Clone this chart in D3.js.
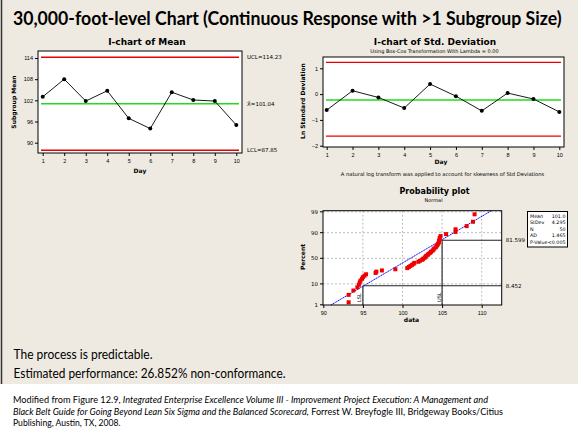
<!DOCTYPE html>
<html>
<head>
<meta charset="utf-8">
<script src="https://cdn.jsdelivr.net/npm/d3@7"></script>
<style>
  body { margin: 0; background: #fff; }
  svg { display: block; font-family: "DejaVu Sans", sans-serif; }
  .tick text { font-size: 5.5px; fill: #000; }
  .tick line { stroke: #000; }
</style>
</head>
<body>
<svg id="chart" width="586" height="431"></svg>
<script>
// ---- data ----
const days = [1, 2, 3, 4, 5, 6, 7, 8, 9, 10];
const meanValues = [103.0, 108.0, 101.8, 104.7, 96.9, 94.0, 104.3, 102.1, 101.8, 95.0];
const meanLimits = [114.23, 101.04, 87.85];
const meanLimitLabels = ['UCL=114.23', 'X\u0304=101.04', 'LCL=87.85'];
const meanTicks = [90, 96, 102, 108, 114];

const lnSdValues = [-0.62, 0.13, -0.13, -0.54, 0.39, -0.08, -0.65, 0.04, -0.19, -0.69];
const lnSdLimits = [1.23, -0.23, -1.63];
const lnSdTicks = [-2, -1, 0, 1];

// 50 observations, sorted
const probData = [
  93.2, 93.2, 93.8, 94.3, 94.5, 94.6, 94.7, 94.9, 95.0, 95.2,
  95.4, 96.6, 96.7, 97.4, 99.1, 100.6, 100.8, 101.0, 101.2, 101.4,
  101.5, 102.0, 102.2, 102.5, 102.6, 102.8, 102.9, 103.0, 103.2, 103.3,
  103.5, 103.6, 103.8, 103.9, 104.0, 104.2, 104.3, 104.4, 104.5, 104.6,
  104.6, 104.7, 104.7, 104.8, 105.5, 106.7, 106.7, 108.1, 108.9, 109.1
];
const probPctTicks = [1, 10, 50, 90, 99];
const probXTicks = [90, 95, 100, 105, 110];
const fitMean = 101.0;
const fitSd = 4.295;
const specLimits = [95, 105];
const specNames = ['LSL', 'USL'];
const specPct = [8.452, 81.599];
const statNames = ['Mean', 'StDev', 'N', 'AD', 'P-Value'];
const statValues = ['101.0', '4.295', '50', '1.465', '<0.005'];

const RED = '#e80000', GREEN = '#1fdc1f';

const svg = d3.select('#chart');

// inverse normal cdf (Acklam)
function normInv(p) {
  const a = [-39.69683028665376, 220.9460984245205, -275.9285104469687, 138.3577518672690, -30.66479806614716, 2.506628277459239];
  const b = [-54.47609879822406, 161.5858368580409, -155.6989798598866, 66.80131188771972, -13.28068155288572];
  const c = [-0.007784894002430293, -0.3223964580411365, -2.400758277161838, -2.549732539343734, 4.374664141464968, 2.938163982698783];
  const d = [0.007784695709041462, 0.3224671290700398, 2.445134137142996, 3.754408661907416];
  const lo = 0.02425;
  let q, r;
  if (p < lo) {
    q = Math.sqrt(-2 * Math.log(p));
    return (((((c[0]*q+c[1])*q+c[2])*q+c[3])*q+c[4])*q+c[5]) / ((((d[0]*q+d[1])*q+d[2])*q+d[3])*q+1);
  }
  if (p > 1 - lo) {
    q = Math.sqrt(-2 * Math.log(1 - p));
    return -(((((c[0]*q+c[1])*q+c[2])*q+c[3])*q+c[4])*q+c[5]) / ((((d[0]*q+d[1])*q+d[2])*q+d[3])*q+1);
  }
  q = p - 0.5; r = q * q;
  return (((((a[0]*r+a[1])*r+a[2])*r+a[3])*r+a[4])*r+a[5])*q / (((((b[0]*r+b[1])*r+b[2])*r+b[3])*r+b[4])*r+1);
}

// background panel
svg.append('rect').attr('x', 0).attr('y', 0).attr('width', 578).attr('height', 384).attr('fill', '#eeeae1');
svg.append('line').attr('x1', 1.5).attr('x2', 1.5).attr('y1', 0).attr('y2', 384).attr('stroke', '#333').attr('stroke-width', 1.5);

// title squeezed horizontally to the reference width
const title = svg.append('text').attr('x', 0).attr('y', 0)
  .attr('font-family', 'Lato, "Open Sans", sans-serif').attr('font-weight', 'bold').attr('font-size', 19.5)
  .text('30,000-foot-level Chart (Continuous Response with >1 Subgroup Size)');
const titleW = title.node().getComputedTextLength();
title.attr('transform', `translate(13,25) scale(${549 / titleW},1)`);

function label(x, y, txt, size, opts = {}) {
  const t = svg.append('text').attr('x', x).attr('y', y).attr('font-size', size)
    .attr('text-anchor', opts.anchor || 'middle').text(txt);
  if (opts.bold) t.attr('font-weight', 'bold');
  if (opts.rotate) t.attr('transform', `rotate(-90,${x},${y})`);
  return t;
}

// ---- generic I-chart ----
function iChart(box, x, y, values, limits, ticks) {
  svg.append('rect').attr('x', box.x0).attr('y', box.y0)
    .attr('width', box.x1 - box.x0).attr('height', box.y1 - box.y0)
    .attr('fill', '#fff').attr('stroke', '#000').attr('stroke-width', 1);

  const g = svg.append('g');
  g.selectAll('line.lim').data(limits).enter().append('line')
    .attr('x1', box.x0 + 3).attr('x2', box.x1 - 3)
    .attr('y1', d => y(d)).attr('y2', d => y(d))
    .attr('stroke', (d, i) => i === 1 ? GREEN : RED).attr('stroke-width', 1.4);

  g.append('path').datum(values)
    .attr('fill', 'none').attr('stroke', '#000').attr('stroke-width', 0.9)
    .attr('d', d3.line().x((d, i) => x(days[i])).y(d => y(d)));
  g.selectAll('circle').data(values).enter().append('circle')
    .attr('cx', (d, i) => x(days[i])).attr('cy', d => y(d)).attr('r', 2).attr('fill', '#000');

  const ay = svg.append('g').attr('transform', `translate(${box.x0},0)`)
    .call(d3.axisLeft(y).tickValues(ticks).tickFormat(d3.format('d')).tickSize(3).tickPadding(2));
  ay.select('.domain').remove();
  const ax = svg.append('g').attr('transform', `translate(0,${box.y1})`)
    .call(d3.axisBottom(x).tickValues(days).tickFormat(d3.format('d')).tickSize(3).tickPadding(3));
  ax.select('.domain').remove();
}

// I-chart of Mean
const xMean = d3.scaleLinear().domain([1, 10]).range([42.7, 236.3]);
const yMean = d3.scaleLinear().domain([90, 114]).range([142.7, 58]);
iChart({ x0: 38, x1: 242, y0: 51, y1: 153 }, xMean, yMean, meanValues, meanLimits, meanTicks);
label(147, 44.5, 'I-chart of Mean', 9, { bold: true });
label(140, 173, 'Day', 6, { bold: true });
label(16, 102, 'Subgroup Mean', 6, { bold: true, rotate: true });
meanLimits.forEach((v, i) => {
  label(247, yMean(v) + 2, meanLimitLabels[i], 5.5, { anchor: 'start' });
});

// I-chart of Std. Deviation
const xSd = d3.scaleLinear().domain([1, 10]).range([326.7, 559.3]);
const ySd = d3.scaleLinear().domain([-2, 1]).range([145.7, 68.3]);
iChart({ x0: 323, x1: 564, y0: 57, y1: 147 }, xSd, ySd, lnSdValues, lnSdLimits, lnSdTicks);
label(435, 44.5, 'I-chart of Std. Deviation', 9, { bold: true });
label(434.5, 52.5, 'Using Box-Cox Transformation With Lambda = 0.00', 5);
label(441, 164, 'Day', 6, { bold: true });
label(304.5, 101, 'Ln Standard Deviation', 6, { bold: true, rotate: true });
label(442.5, 176, 'A natural log transform was applied to account for skewness of Std Deviations', 5.2);

// ---- probability plot ----
const pb = { x0: 323, x1: 501.7, y0: 210.7, y1: 305 };
const xP = d3.scaleLinear().domain([90, 110]).range([323.3, 481.7]);
const zP = d3.scaleLinear().domain([normInv(0.01), normInv(0.99)]).range([304.8, 211.8]);
const yP = p => zP(normInv(p / 100));

svg.append('rect').attr('x', pb.x0).attr('y', pb.y0)
  .attr('width', pb.x1 - pb.x0).attr('height', pb.y1 - pb.y0).attr('fill', '#fff');

const grid = svg.append('g').attr('stroke', '#b4b4b4').attr('stroke-dasharray', '2,2').attr('stroke-width', 0.9);
grid.selectAll('line.v').data(probXTicks.slice(1)).enter().append('line')
  .attr('x1', d => xP(d)).attr('x2', d => xP(d)).attr('y1', pb.y0).attr('y2', pb.y1);
grid.selectAll('line.h').data(probPctTicks.slice(1)).enter().append('line')
  .attr('x1', pb.x0).attr('x2', pb.x1).attr('y1', d => yP(d)).attr('y2', d => yP(d));

// spec reference lines
const spec = svg.append('g').attr('stroke', '#222').attr('stroke-width', 1.1);
specLimits.forEach((s, i) => {
  spec.append('line').attr('x1', xP(s)).attr('x2', pb.x1).attr('y1', yP(specPct[i])).attr('y2', yP(specPct[i]));
  spec.append('line').attr('x1', xP(s)).attr('x2', xP(s)).attr('y1', yP(specPct[i])).attr('y2', pb.y1);
  label(pb.x1 + 4, yP(specPct[i]) + 2, specPct[i].toFixed(3), 5.5, { anchor: 'start' });
  label(xP(s) - 1.5, pb.y1 - 3, specNames[i], 5, { anchor: 'start', rotate: true });
});

// fitted normal line
const zTop = zP.invert(pb.y0), zBot = zP.invert(pb.y1);
svg.append('line')
  .attr('x1', xP(fitMean + zBot * fitSd)).attr('y1', pb.y1)
  .attr('x2', xP(fitMean + zTop * fitSd)).attr('y2', pb.y0)
  .attr('stroke', '#1010ff').attr('stroke-width', 1).attr('stroke-dasharray', '1.5,0.5');

// points at median ranks
const n = probData.length;
svg.append('g').selectAll('rect').data(probData).enter().append('rect')
  .attr('x', d => xP(d) - 2).attr('y', (d, i) => yP(100 * (i + 1 - 0.3) / (n + 0.4)) - 2)
  .attr('width', 4).attr('height', 4).attr('fill', '#ee0000');

svg.append('rect').attr('x', pb.x0).attr('y', pb.y0)
  .attr('width', pb.x1 - pb.x0).attr('height', pb.y1 - pb.y0).attr('fill', 'none')
  .attr('stroke', '#000').attr('stroke-width', 1);

const pAxis = svg.append('g');
probPctTicks.forEach(p => {
  pAxis.append('line').attr('x1', pb.x0 - 3).attr('x2', pb.x0).attr('y1', yP(p)).attr('y2', yP(p)).attr('stroke', '#000');
  label(pb.x0 - 5, yP(p) + 2, p, 5.5, { anchor: 'end' });
});
const apX = svg.append('g').attr('transform', `translate(0,${pb.y1})`)
  .call(d3.axisBottom(xP).tickValues(probXTicks).tickSize(3).tickPadding(3));
apX.select('.domain').remove();

label(434.5, 193.5, 'Probability plot', 8, { bold: true });
label(433.5, 202, 'Normal', 5);
label(411.5, 322, 'data', 6, { bold: true });
label(305, 257, 'Percent', 6, { bold: true, rotate: true });

// stats box
svg.append('rect').attr('x', 527.5).attr('y', 211.5).attr('width', 40).attr('height', 35.5)
  .attr('fill', '#fff').attr('stroke', '#000').attr('stroke-width', 1);
statNames.forEach((s, i) => {
  label(530, 217.5 + i * 6.6, s, 4.8, { anchor: 'start' });
  label(565.5, 217.5 + i * 6.6, statValues[i], 4.8, { anchor: 'end' });
});

// ---- conclusions ----
const body = 'Lato, "Open Sans", sans-serif';
svg.append('text').attr('x', 13.5).attr('y', 358.5).attr('font-family', body).attr('font-size', 13)
  .attr('textLength', 139).attr('lengthAdjust', 'spacingAndGlyphs').text('The process is predictable.');
svg.append('text').attr('x', 13.5).attr('y', 377.5).attr('font-family', body).attr('font-size', 13)
  .attr('textLength', 272).attr('lengthAdjust', 'spacingAndGlyphs').text('Estimated performance: 26.852% non-conformance.');

// ---- citation ----
const citeLines = [
  [['Modified from Figure 12.9, ', false], ['Integrated Enterprise Excellence Volume III - Improvement Project Execution: A Management and', true]],
  [['Black Belt Guide for Going Beyond Lean Six Sigma and the Balanced Scorecard,', true], [' Forrest W. Breyfogle III, Bridgeway Books/Citius', false]],
  [['Publishing, Austin, TX, 2008.', false]]
];
const citeWidths = [475, 490, null];
citeLines.forEach((parts, i) => {
  const t = svg.append('text').attr('x', 13).attr('y', 403 + i * 11.5)
    .attr('font-family', body).attr('font-size', 8.6);
  if (citeWidths[i]) t.attr('textLength', citeWidths[i]).attr('lengthAdjust', 'spacingAndGlyphs');
  parts.forEach(([s, it]) => t.append('tspan').attr('font-style', it ? 'italic' : 'normal').text(s));
});
</script>
</body>
</html>
